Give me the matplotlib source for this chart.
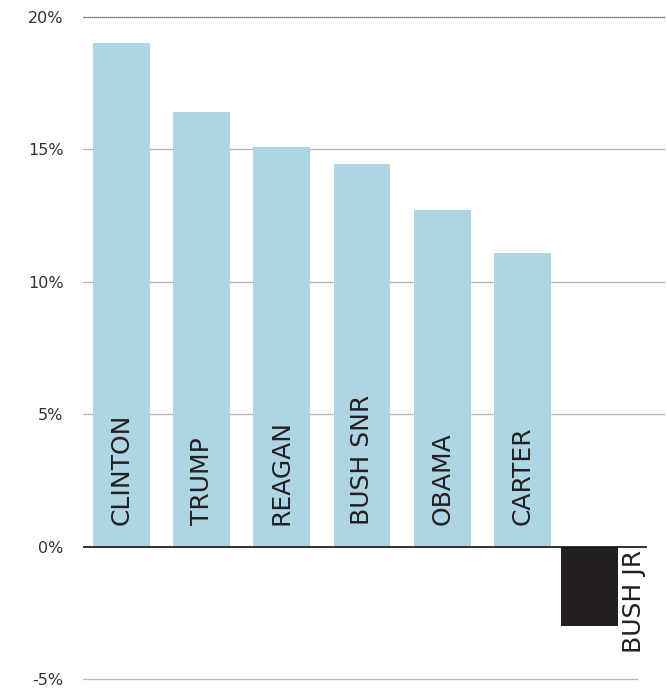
import matplotlib
matplotlib.use("Agg")
import matplotlib.pyplot as plt
import numpy as np

presidents = ["CLINTON", "TRUMP", "REAGAN", "BUSH SNR", "OBAMA", "CARTER", "BUSH JR"]
values = [19.0, 16.4, 15.1, 14.45, 12.7, 11.1, -3.0]
yticks = [-5, 0, 5, 10, 15, 20]
ytick_labels = ["-5%", "0%", "5%", "10%", "15%", "20%"]

pos_color = "#ADD5E4"
neg_color = "#231F20"
text_color = "#231F20"

fig = plt.figure(figsize=(6.67, 6.89), dpi=100)
ax = fig.add_axes([83/667, 1 - 679/689, (665-83)/667, (679-17)/689])

x = np.arange(len(presidents), dtype=float)
x[np.array(values) < 0] -= 0.16
colors = [pos_color if v >= 0 else neg_color for v in values]
ax.bar(x, values, width=0.71, color=colors, zorder=2)

ax.set_xlim(-0.48, 6.78)
ax.set_ylim(-5, 20)

# gridlines
for t in yticks:
    if t == 0:
        ax.hlines(0, -0.48, 6.55, color="#111111", lw=1.2, zorder=3, clip_on=False)
    elif t == -5:
        ax.hlines(t, -0.48, 6.44, color="#888888", lw=0.9, ls=(0, (1, 0.6)), zorder=1, clip_on=False)
    elif t == 20:
        ax.hlines(t, -0.48, 6.78, color="#333333", lw=0.9, ls=(0, (1, 0.6)), zorder=1, clip_on=False)
    else:
        ax.hlines(t, -0.48, 6.78, color="#888888", lw=0.9, ls=(0, (1, 0.6)), zorder=1, clip_on=False)

ax.set_yticks(yticks)
ax.set_yticklabels(ytick_labels, fontsize=11.5, color="#333333")
ax.tick_params(axis="y", length=0, pad=14)
ax.set_xticks([])
for s in ax.spines.values():
    s.set_visible(False)

for xi, v, name in zip(x, values, presidents):
    if v >= 0:
        ax.text(xi, 0.8, name, rotation=90, ha="center", va="bottom",
                fontsize=18, color=text_color, zorder=4)
    else:
        ax.text(xi + 0.55, -0.12, name, rotation=90, ha="center", va="top",
                fontsize=18, color=text_color, zorder=4)

fig.savefig("out.png", dpi=100)
